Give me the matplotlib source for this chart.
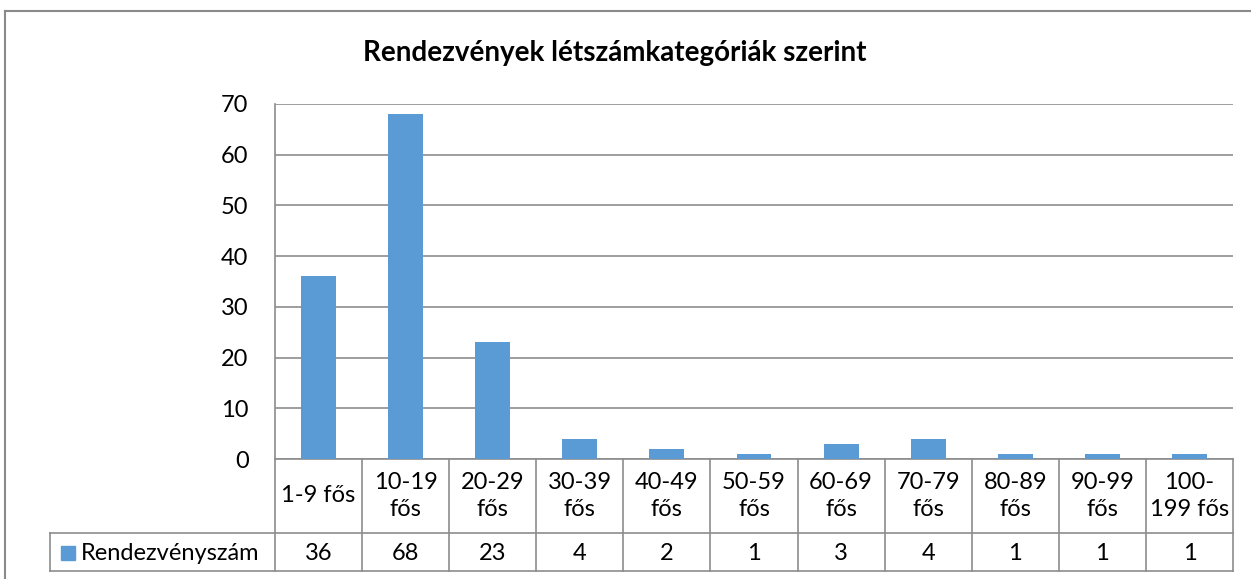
import matplotlib.pyplot as plt
from matplotlib.lines import Line2D
from matplotlib.patches import Rectangle

# ---- data ----
categories = ["1-9 fős", "10-19\nfős", "20-29\nfős", "30-39\nfős", "40-49\nfős",
              "50-59\nfős", "60-69\nfős", "70-79\nfős", "80-89\nfős", "90-99\nfős",
              "100-\n199 fős"]
counts = [36, 68, 23, 4, 2, 1, 3, 4, 1, 1, 1]
series_name = "Rendezvényszám"
title = "Rendezvények létszámkategóriák szerint"
yticks = [0, 10, 20, 30, 40, 50, 60, 70]

plt.rcParams['font.family'] = ['Lato', 'DejaVu Sans']

W, H = 1251, 579
BAR = "#5B9BD5"
GRID = "#8C8C8C"
FS = 17

fig = plt.figure(figsize=(W / 100, H / 100), dpi=100)

# plot area in pixels
left, right, top, bottom = 275, 1233, 104, 459
ax = fig.add_axes([left / W, 1 - bottom / H, (right - left) / W, (bottom - top) / H])

x = list(range(len(counts)))
ax.bar(x, counts, width=0.4, color=BAR, zorder=3)
ax.set_xlim(-0.5, len(counts) - 0.5)
ax.set_ylim(0, 70)
ax.set_yticks(yticks)
ax.yaxis.grid(True, color=GRID, linewidth=1.2, zorder=0)
ax.tick_params(axis="y", length=0, pad=19, labelsize=FS)
ax.set_xticks([])
for s in ["top", "right"]:
    ax.spines[s].set_visible(False)
for s in ["left", "bottom"]:
    ax.spines[s].set_color(GRID)
    ax.spines[s].set_linewidth(1.2)


def fx(px):
    return px / W


def fy(py):
    return 1 - py / H


def hline(x0, x1, y, c=GRID, lw=1.2):
    fig.add_artist(Line2D([fx(x0), fx(x1)], [fy(y), fy(y)], color=c, lw=lw))


def vline(xp, y0, y1, c=GRID, lw=1.2):
    fig.add_artist(Line2D([fx(xp), fx(xp)], [fy(y0), fy(y1)], color=c, lw=lw))


# ---- data table ----
row1, row2 = 533, 571
leg_left = 50
hline(leg_left, right, row1)
hline(leg_left, right, row2)
vline(leg_left, row1, row2)
cw = (right - left) / len(counts)
for i in range(len(counts) + 1):
    vline(left + i * cw, bottom, row2)

tr = ax.get_xaxis_transform()
to_ax = lambda py: (bottom - py) / (bottom - top)
for i, (cat, v) in enumerate(zip(categories, counts)):
    ax.text(i, to_ax((bottom + row1) / 2), cat, transform=tr, ha="center", va="center",
            fontsize=FS, linespacing=1.3, clip_on=False)
    ax.text(i, to_ax((row1 + row2) / 2 + 1), str(v), transform=tr, ha="center",
            va="center", fontsize=FS, clip_on=False)

# legend key in the table
fig.add_artist(Rectangle((fx(61), fy(560)), fx(14), 14 / H, color=BAR))
fig.text(fx(81), fy(553), series_name, ha="left", va="center", fontsize=FS)

# ---- title ----
fig.text(fx(615), fy(53), title, ha="center", va="center", fontsize=20, fontweight="bold")

# ---- chart frame ----
hline(5, W, 11, c="#8A8A8A", lw=1.5)
vline(5, 11, H, c="#8A8A8A", lw=1.5)

fig.savefig("out.png", dpi=100)
